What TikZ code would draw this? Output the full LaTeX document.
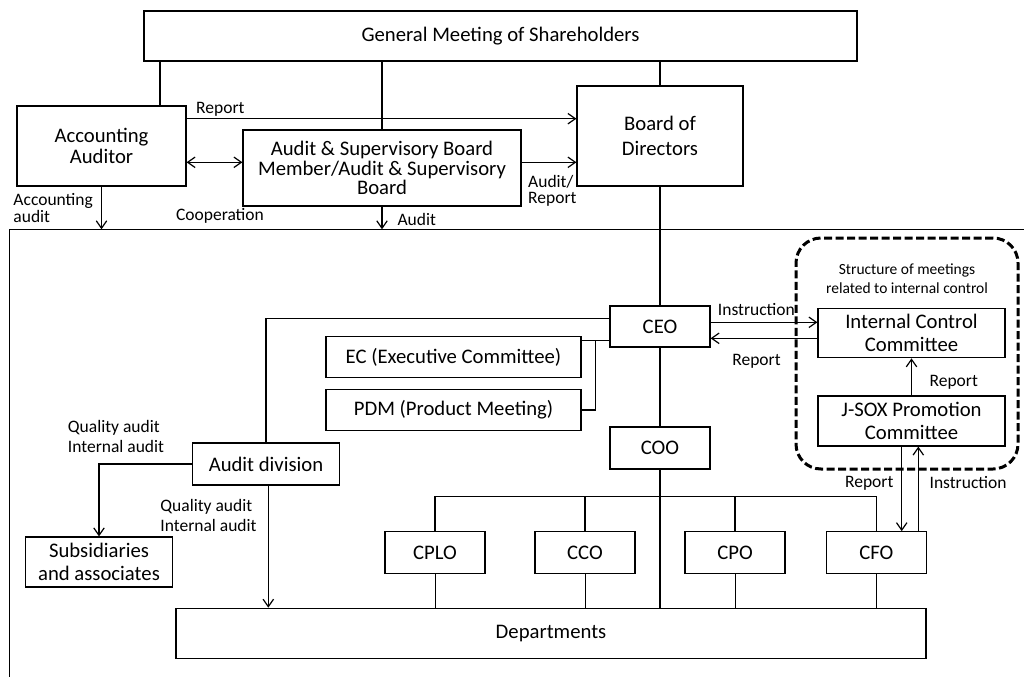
\documentclass[tikz,border=0pt]{standalone}
\usepackage{fontspec}
\setmainfont{Carlito}
\usetikzlibrary{arrows.meta}
\begin{document}
\begin{tikzpicture}[x=1pt,y=-1pt,line width=1.2pt,>={Straight Barb[length=7.5pt,width=10.5pt]},
  box/.style={draw,inner sep=0pt,align=center,font=\fontsize{20.7}{22.5}\selectfont},
  lbl/.style={inner sep=2pt,align=left,font=\fontsize{17.5}{20}\selectfont},
  small/.style={inner sep=0pt,align=center,font=\fontsize{15.5}{19}\selectfont},
  icgroup/.style={draw,line width=3pt,dash pattern=on 8pt off 3.5pt,rounded corners=25pt,minimum width=222pt,minimum height=231pt}]
\useasboundingbox (0,0) rectangle (1024,677);
\node[box,minimum width=713pt,minimum height=50pt] (gms) at (500.5,36) {General Meeting of Shareholders};
\node[box,minimum width=169pt,minimum height=80pt,font=\fontsize{20.7}{20.5}\selectfont] (acc) at (101.5,146) {Accounting\\Auditor};
\node[box,minimum width=278pt,minimum height=76pt,font=\fontsize{20.7}{19.5}\selectfont] (asb) at (382,168) {Audit \& Supervisory Board\\Member/Audit \& Supervisory\\Board};
\node[box,minimum width=166pt,minimum height=100pt,font=\fontsize{20.7}{25}\selectfont] (bod) at (660,136) {Board of\\Directors};
\node[box,minimum width=100pt,minimum height=41pt] (ceo) at (660,326.5) {CEO};
\node[box,minimum width=255pt,minimum height=41.5pt] (ec) at (453.5,357) {EC (Executive Committee)};
\node[box,minimum width=255pt,minimum height=41.5pt] (pdm) at (453.5,410) {PDM (Product Meeting)};
\node[box,minimum width=100pt,minimum height=42pt] (coo) at (660,448) {COO};
\node[box,minimum width=146.5pt,minimum height=42pt] (adiv) at (266,464) {Audit division};
\node[box,minimum width=146.5pt,minimum height=50pt] (subs) at (99,562) {Subsidiaries\\and associates};
\node[box,minimum width=750pt,minimum height=50pt] (dept) at (551,633.3) {Departments};
\foreach \n/\t/\x in {cplo/CPLO/435,cco/CCO/585,cpo/CPO/735,cfo/CFO/876.3}
  \node[box,minimum width=100pt,minimum height=41.5pt] (\n) at (\x,552.5) {\t};
\node[icgroup] (icbox) at (907,353.5) {};
\node[small] (ictitle) at ([yshift=-42pt]icbox.north) {Structure of meetings\\related to internal control};
\node[box,minimum width=187pt,minimum height=49.5pt] (icc) at (911.5,333) {Internal Control\\Committee};
\node[box,minimum width=187pt,minimum height=50pt] (jsox) at (911.5,421) {J-SOX Promotion\\Committee};

\coordinate (exectl) at (9.3,229.3);
\draw (1024,229.3) -- (exectl) -- (9.3,677);

\coordinate (accup) at ([xshift=58.5pt]acc.north);
\draw (accup) -- (accup |- gms.south);
\draw (gms.south -| asb.north) -- (asb.north);
\draw (gms.south -| bod.north) -- (bod.north);
\coordinate (rpt) at ([yshift=-13.3pt]acc.north east);
\draw[->] (rpt) -- (rpt -| bod.west) node[pos=0,lbl,above right,xshift=7pt] {Report};
\coordinate (coop) at ([yshift=-16.3pt]acc.east);
\draw[<->] (coop) -- (coop -| asb.west);
\coordinate (ab) at ([yshift=5.7pt]asb.east);
\draw[->] (ab) -- (ab -| bod.west) node[pos=0,lbl,below right,xshift=4pt,yshift=-10pt,font=\fontsize{17.5}{16.5}\selectfont] {Audit/\\Report};
\draw[->] (acc.south) -- (acc.south |- exectl) node[midway,lbl,left,xshift=-6pt,font=\fontsize{17.5}{15}\selectfont] {Accounting\\audit};
\node[lbl] (cooplbl) at (220,216) {Cooperation};
\draw[->] (asb.south) -- (asb.south |- exectl) node[midway,lbl,right,xshift=13pt,yshift=-2pt] {Audit};

\draw (bod.south) -- (ceo.north);
\draw ([yshift=8.2pt]ceo.west) -| (adiv.north);
\coordinate (ecj) at ([yshift=-14.2pt]ceo.west);
\draw (ecj) -- (ecj -| ec.east);
\draw ([xshift=-14.3pt]ecj) |- (pdm.east);
\draw (ceo.south) -- (coo.north);
\draw (coo.south) -- (coo.south |- dept.north);
\coordinate (bus) at ([yshift=34.3pt]cplo.north);
\draw (cplo.north) -- (bus) -| (cfo.north);
\foreach \n in {cco,cpo}
  \draw (\n.north) -- (\n.north |- bus);
\foreach \n in {cplo,cco,cpo,cfo}
  \draw[line width=1pt] (\n.south) -- (\n.south |- dept.north);

\draw[->] (adiv.west) -| (subs.north);
\coordinate (adown) at ([xshift=2.3pt]adiv.south);
\draw[->] (adown) -- (adown |- dept.north);
\node[lbl] (qa1) at (116,436) {Quality audit\\Internal audit};
\node[lbl] (qa2) at (208.5,515) {Quality audit\\Internal audit};

\coordinate (ci) at ([yshift=4.2pt]ceo.east);
\draw[->] (ci) -- (ci -| icc.west) node[pos=0,lbl,above right,xshift=4.7pt,yshift=3.6pt] {Instruction};
\coordinate (cr) at ([yshift=-5.3pt]icc.west);
\draw[->] (cr) -- (cr -| ceo.east) node[pos=0.57,lbl,below,yshift=-13pt] {Report};
\draw[->] (jsox.north) -- (icc.south) node[midway,lbl,right,xshift=15.5pt,yshift=-5pt] {Report};
\coordinate (jd) at ([xshift=-9.8pt]jsox.south);
\coordinate (ju) at ([xshift=6.8pt]jsox.south);
\draw[->] (jd) -- (jd |- cfo.north) node[midway,lbl,left,xshift=-5.7pt,yshift=6pt] {Report};
\draw[->] (ju |- cfo.north) -- (ju) node[midway,lbl,right,xshift=8.7pt,yshift=6pt] {Instruction};
\end{tikzpicture}
\end{document}
